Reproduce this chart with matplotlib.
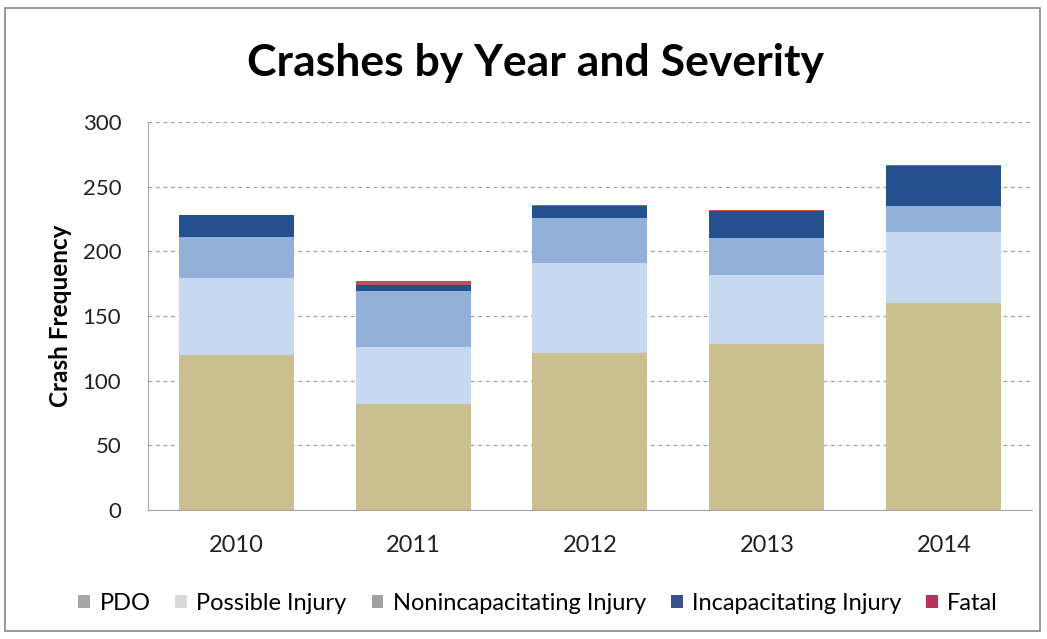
import matplotlib.pyplot as plt
import numpy as np
from matplotlib.patches import Patch, Rectangle

plt.rcParams['font.family'] = ['Lato', 'DejaVu Sans']

years = ['2010', '2011', '2012', '2013', '2014']
pdo = [120, 82, 121, 128, 160]
possible = [59, 44, 70, 54, 55]
nonincap = [32, 43, 35, 28, 20]
incap = [17, 5, 9, 21, 31]
fatal = [0, 3, 1, 1, 1]

series = [pdo, possible, nonincap, incap, fatal]
names = ['PDO', 'Possible Injury', 'Nonincapacitating Injury',
         'Incapacitating Injury', 'Fatal']
bar_colors = ['#c9bf8f', '#c6d9f1', '#93b1d8', '#24508f', '#c0504d']
legend_colors = ['#a6a6a6', '#d9d9d9', '#a0a0a0', '#3b4f8a', '#b8335a']

fig = plt.figure(figsize=(10.47, 6.39), dpi=100)
ax = fig.add_axes([0.141, 0.202, 0.845, 0.607])

x = np.arange(len(years))
bottom = np.zeros(len(years))
for vals, col in zip(series, bar_colors):
    ax.bar(x, vals, width=0.65, bottom=bottom, color=col, zorder=2)
    bottom += np.array(vals)

ax.set_xlim(-0.5, 4.5)
ax.set_ylim(0, 300)
ax.set_yticks(range(0, 301, 50))
ax.set_xticks(x)
ax.set_xticklabels(years)
ax.tick_params(axis='both', length=0, colors='#222222')
ax.tick_params(axis='x', pad=18, labelsize=17)
ax.tick_params(axis='y', pad=19, labelsize=16)
ax.yaxis.grid(True, linestyle=(0, (3, 3)), color='#a0a0a0', linewidth=0.9, zorder=0)
for s in ['top', 'right']:
    ax.spines[s].set_visible(False)
ax.spines['left'].set_color('#a6a6a6')
ax.spines['bottom'].set_color('#a6a6a6')

fig.text(60 / 1047, 1 - 316 / 639, 'Crash Frequency', rotation=90, ha='center',
         va='center', fontsize=17.5, fontweight='bold')

fig.text(0.511, 0.902, 'Crashes by Year and Severity', ha='center', va='center',
         fontsize=32, fontweight='bold')

handles = [Patch(facecolor=c) for c in legend_colors]
fig.legend(handles, names, loc='center', bbox_to_anchor=(0.514, 0.056), ncol=5,
           frameon=False, fontsize=17, handlelength=0.5, handleheight=0.5,
           handletextpad=0.4, columnspacing=1.05)

fig.patches.append(Rectangle((0.005, 0.012), 0.988, 0.975, transform=fig.transFigure,
                             fill=False, edgecolor='#888888', linewidth=1.2))

fig.savefig('out.png', dpi=100)
